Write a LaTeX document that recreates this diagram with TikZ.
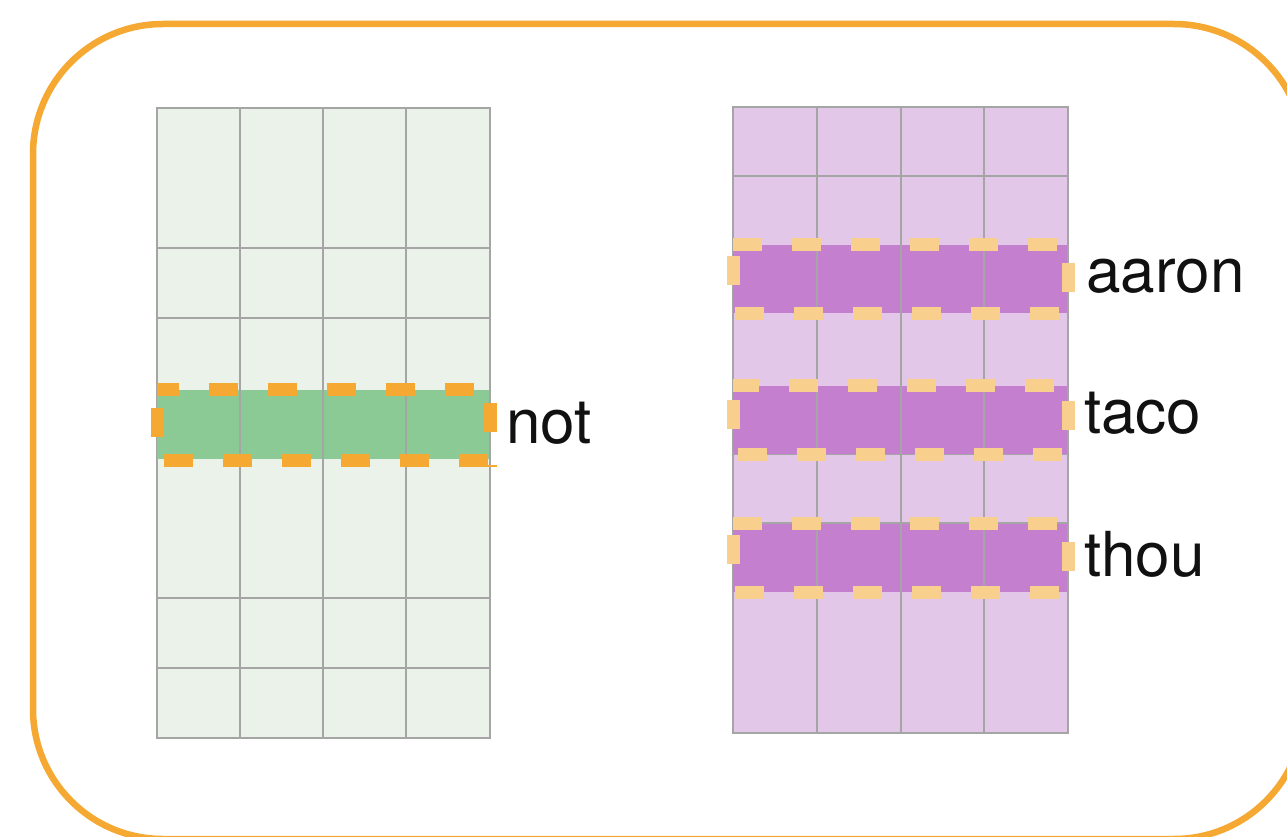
\documentclass[tikz,border=0pt]{standalone}
\usepackage{fontspec}
\setmainfont{TeX Gyre Heros}
\definecolor{lgreen}{HTML}{EBF2EA}
\definecolor{dgreen}{HTML}{8BCA95}
\definecolor{gridgray}{HTML}{A5A5A5}
\definecolor{lpurple}{HTML}{E2C7E8}
\definecolor{dpurple}{HTML}{C47FCF}
\definecolor{orng}{HTML}{F5A832}
\definecolor{lorng}{HTML}{F9CF8D}
\definecolor{txt}{HTML}{111111}
\tikzset{
  gridline/.style={draw=gridgray, line width=2.4pt},
  selbox/.style={line width=13pt, dash pattern=on 29pt off 30pt, line join=miter},
  lbl/.style={anchor=base west, inner sep=0pt, text=txt, font=\fontsize{62}{70}\selectfont},
  frame/.style={draw=orng, line width=6.5pt, rounded corners=130pt}
}
\begin{document}
\begin{tikzpicture}[x=1pt,y=-1pt]
\useasboundingbox (0,0) rectangle (1287,837);
\clip (0,0) rectangle (1287,837);
\fill[white] (0,0) rectangle (1287,837);
% outer frame
\draw[frame] (33,24) rectangle (1304,839);

% ---------------- left grid ----------------
\fill[lgreen] (157,108) rectangle (490,738);
\draw[gridline] (157,108) rectangle (490,738);
\foreach \y in {248,318,598,668} \draw[gridline] (157,\y) -- (490,\y);
\fill[dgreen] (157,390) rectangle (489,459);
\foreach \x in {240,323,406} \draw[gridline] (\x,108) -- (\x,738);
\draw[selbox, draw=orng, dash phase=7pt] (157,389) -- (490,389) -- (490,460) -- (157,460) -- cycle;
\draw[orng, line width=2pt] (481,466) -- (497,466);
\node[lbl] (not) at (506,443) {not};

% ---------------- right grid ----------------
\fill[lpurple] (733,107) rectangle (1068,733);
\draw[gridline] (733,107) rectangle (1068,733);
\foreach \y in {176,385,454,523} \draw[gridline] (733,\y) -- (1068,\y);
\fill[lpurple] (734,384) rectangle (1067,386);
\foreach \y/\h in {245/313, 386/454, 524/592} \fill[dpurple] (733,\y) rectangle (1067,\h);
\foreach \x in {817,901,984} \draw[gridline] (\x,107) -- (\x,733);
\draw[selbox, draw=lorng, dash phase=0pt] (733,244) -- (1068,244) -- (1068,313) -- (733,313) -- cycle;
\draw[selbox, draw=lorng, dash phase=3pt] (733,385) -- (1068,385) -- (1068,454) -- (733,454) -- cycle;
\draw[selbox, draw=lorng, dash phase=0pt] (733,523) -- (1068,523) -- (1068,592) -- (733,592) -- cycle;
\node[lbl] (aaron) at (1086,292) {aaron};
\node[lbl] (taco) at (1084,433) {taco};
\node[lbl] (thou) at (1084,576) {thou};
\end{tikzpicture}
\end{document}
